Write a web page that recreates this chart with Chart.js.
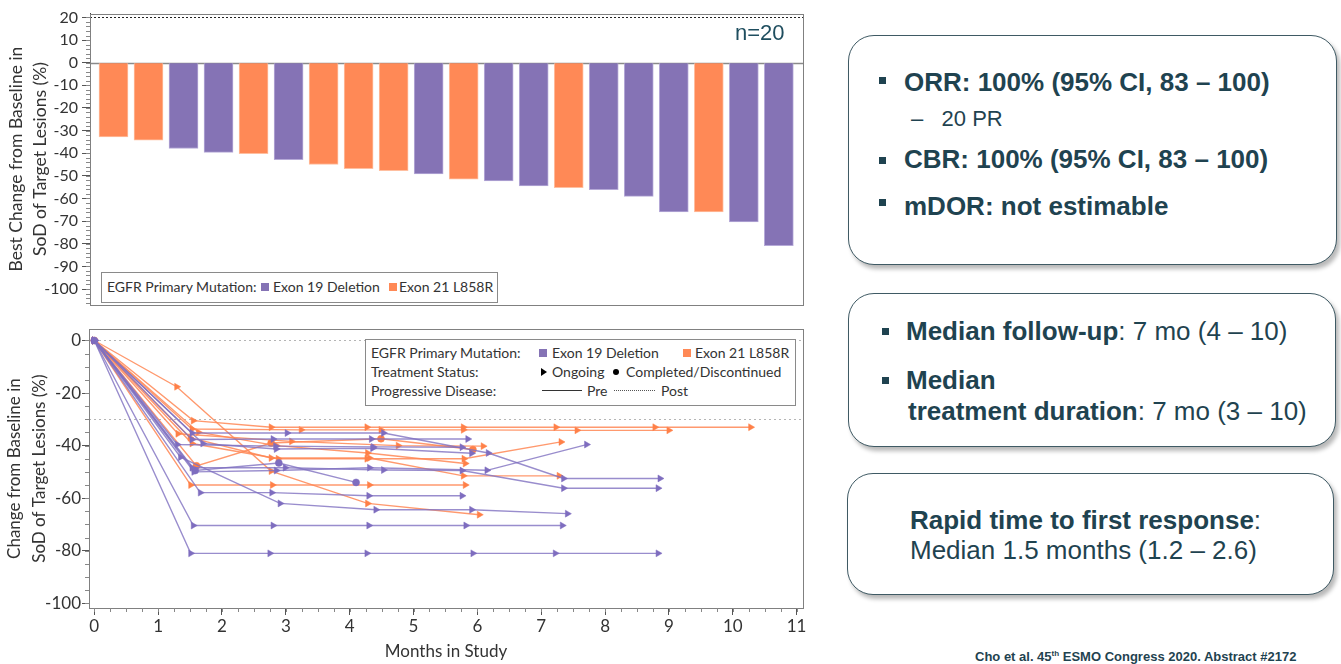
<!DOCTYPE html>
<html>
<head>
<meta charset="utf-8">
<script src="https://cdn.jsdelivr.net/npm/chart.js@4.4.1/dist/chart.umd.min.js"></script>
<style>
  body { margin: 0; background: #fff; }
  #slide { position: relative; width: 1341px; height: 664px; overflow: hidden; background: #fff; font-family: Lato, sans-serif; }
  .cv { position: absolute; left: 0; }
  .lg { position: absolute; border: 1px solid #8a8a8a; background: #fff; }
  .t { position: absolute; white-space: nowrap; font-size: 14px; line-height: 18px; color: #333; }
  .sw { position: absolute; width: 8px; height: 8px; }
  .panel { position: absolute; border: 1.5px solid #3f5a64; border-radius: 26px; box-shadow: 3px 4px 4px rgba(0,0,0,0.28); background: #fff; }
  .p { position: absolute; white-space: nowrap; font-family: "Liberation Sans", Arial, sans-serif; color: #1f4350; font-size: 26px; line-height: 26px; }
  .b { font-weight: bold; }
  .blt { position: absolute; width: 7px; height: 7px; background: #1f4350; }
</style>
</head>
<body>
<div id="slide">
  <canvas id="waterfall" class="cv" style="top:0" width="812" height="318"></canvas>
  <canvas id="spider" class="cv" style="top:318px" width="812" height="346"></canvas>

  <!-- waterfall legend -->
  <div class="lg" style="left:101px;top:272px;width:395px;height:29px;"></div>
  <div class="t" style="left:107px;top:278px;">EGFR Primary Mutation:</div>
  <div class="sw" style="left:261px;top:283px;background:#8573b5;"></div>
  <div class="t" style="left:273px;top:278px;">Exon 19 Deletion</div>
  <div class="sw" style="left:389px;top:283px;background:#ff8956;"></div>
  <div class="t" style="left:399px;top:278px;">Exon 21 L858R</div>
  <div class="t" style="left:735px;top:21px;font-family:'Liberation Sans',Arial,sans-serif;font-size:22px;line-height:24px;color:#1f4e5f;">n=20</div>

  <!-- spider legend -->
  <div class="lg" style="left:365px;top:339px;width:429px;height:65px;"></div>
  <div class="t" style="left:371px;top:344px;">EGFR Primary Mutation:</div>
  <div class="sw" style="left:539px;top:349px;background:#8573b5;"></div>
  <div class="t" style="left:552px;top:344px;">Exon 19 Deletion</div>
  <div class="sw" style="left:683px;top:349px;background:#ff8956;"></div>
  <div class="t" style="left:695px;top:344px;">Exon 21 L858R</div>
  <div class="t" style="left:371px;top:363px;">Treatment Status:</div>
  <div style="position:absolute;left:541px;top:368px;width:0;height:0;border-top:4px solid transparent;border-bottom:4px solid transparent;border-left:6px solid #000;"></div>
  <div class="t" style="left:552px;top:363px;">Ongoing</div>
  <div style="position:absolute;left:613px;top:369px;width:6px;height:6px;border-radius:50%;background:#000;"></div>
  <div class="t" style="left:626px;top:363px;">Completed/Discontinued</div>
  <div class="t" style="left:371px;top:382px;">Progressive Disease:</div>
  <div style="position:absolute;left:542px;top:390px;width:40px;border-top:1px solid #333;"></div>
  <div class="t" style="left:587px;top:382px;">Pre</div>
  <div style="position:absolute;left:614px;top:390px;width:41px;border-top:1px dotted #555;"></div>
  <div class="t" style="left:661px;top:382px;">Post</div>

  <!-- right panels -->
  <div class="panel" style="left:848px;top:35px;width:487px;height:228px;"></div>
  <div class="blt" style="left:879px;top:77px;"></div>
  <div class="p b" style="left:904px;top:69px;">ORR: 100% (95% CI, 83 – 100)</div>
  <div class="p" style="left:911px;top:108px;font-size:22px;line-height:22px;">–&nbsp;&nbsp;&nbsp;20 PR</div>
  <div class="blt" style="left:879px;top:157px;"></div>
  <div class="p b" style="left:904px;top:146px;">CBR: 100% (95% CI, 83 – 100)</div>
  <div class="blt" style="left:879px;top:199px;"></div>
  <div class="p b" style="left:904px;top:193px;">mDOR: not estimable</div>

  <div class="panel" style="left:848px;top:293px;width:486px;height:152px;"></div>
  <div class="blt" style="left:882px;top:328px;"></div>
  <div class="p" style="left:906px;top:318px;"><span class="b">Median follow-up</span>: 7 mo (4 – 10)</div>
  <div class="blt" style="left:882px;top:377px;"></div>
  <div class="p b" style="left:906px;top:367px;">Median</div>
  <div class="p" style="left:908px;top:398px;"><span class="b">treatment duration</span>: 7 mo (3 – 10)</div>

  <div class="panel" style="left:847px;top:473px;width:485px;height:120px;"></div>
  <div class="p b" style="left:910px;top:507px;">Rapid time to first response<span style="font-weight:normal">:</span></div>
  <div class="p" style="left:910px;top:537px;">Median 1.5 months (1.2 – 2.6)</div>

  <div class="p b" style="left:975px;top:650px;font-size:13px;line-height:14px;">Cho et al. 45<sup style="font-size:8px;line-height:0">th</sup> ESMO Congress 2020. Abstract #2172</div>
</div>

<script>
// ---- waterfall: best change per patient, sorted ----
const waterfallChange = [-32.8, -34.2, -37.9, -39.6, -40.2, -42.9, -45.0, -46.8, -47.7, -49.1,
                         -51.5, -52.2, -54.4, -55.2, -56.1, -59.1, -65.9, -65.9, -70.4, -80.9];
const waterfallMutation = ['L858R', 'L858R', 'Del19', 'Del19', 'L858R', 'Del19', 'L858R', 'L858R', 'L858R', 'Del19',
                           'L858R', 'Del19', 'Del19', 'L858R', 'Del19', 'Del19', 'Del19', 'L858R', 'Del19', 'Del19'];
const waterfallTicks = [20, 10, 0, -10, -20, -30, -40, -50, -60, -70, -80, -90, -100];

// ---- spider: change over time per patient ----
const spiderMonths = [
  [0, 1.51, 2.75, 4.27, 5.93, 7.22, 8.83],
  [0, 1.55, 2.80, 4.30, 5.82, 7.33],
  [0, 1.35, 2.91, 4.41, 5.91, 7.41],
  [0, 1.66, 2.78, 4.30, 5.76],
  [0, 1.53, 2.99, 4.53, 5.76, 7.35, 8.83],
  [0, 1.53, 3.02, 4.53, 6.17, 7.35, 8.86],
  [0, 1.56, 2.85, 4.31, 6.15, 7.71],
  [0, 1.58, 2.89, 4.10],
  [0, 1.53, 2.80, 4.34, 5.85],
  [0, 1.30, 2.84, 4.37, 5.76],
  [0, 1.70, 2.85, 4.36, 5.91],
  [0, 1.55, 2.77, 4.27, 5.78, 7.23, 8.78, 10.28],
  [0, 1.53, 3.24, 4.49, 5.78, 7.56, 9.00],
  [0, 1.29, 2.77, 4.28, 6.03],
  [0, 1.51, 2.79, 4.31, 5.81],
  [0, 1.31, 3.09, 4.76, 6.09],
  [0, 1.53, 2.88, 4.27, 5.79, 7.31],
  [0, 1.63, 2.85, 4.28, 5.81],
  [0, 1.60, 2.77, 4.49, 5.93],
  [0, 1.50, 2.77, 4.31, 5.78, 7.28]
];
const spiderChange = [
  [0, -81, -81, -81, -81, -81, -81],
  [0, -70.4, -70.4, -70.4, -70.4, -70.4],
  [0, -44.4, -62, -64.4, -64.4, -65.9],
  [0, -57.9, -57.9, -59.1, -59.1],
  [0, -48.4, -48.4, -49.3, -49.5, -56.2, -56.2],
  [0, -35.2, -35.2, -35.2, -42.8, -52.5, -52.5],
  [0, -50, -49.5, -48.4, -49.4, -39.6],
  [0, -49.5, -46.6, -54],
  [0, -37.7, -37.5, -37.5, -37.5],
  [0, -39.6, -40.2, -40.5, -40.6],
  [0, -39.2, -41.3, -41, -42.9],
  [0, -30.5, -33, -33, -33, -33, -33, -33],
  [0, -33.7, -34, -34, -34, -34.2, -34.2],
  [0, -17.6, -49.7, -62, -66.3],
  [0, -55, -55, -55, -55],
  [0, -35.5, -38.4, -40, -40.2],
  [0, -39.2, -45, -45, -45, -38.6],
  [0, -34.9, -40, -42.8, -46.8],
  [0, -47.7, -39, -37.4, -41.5],
  [0, -37, -44.7, -44.7, -51.5, -51.5]
];
const spiderMutation = ['Del19', 'Del19', 'Del19', 'Del19', 'Del19', 'Del19', 'Del19', 'Del19', 'Del19', 'Del19', 'Del19',
                        'L858R', 'L858R', 'L858R', 'L858R', 'L858R', 'L858R', 'L858R', 'L858R', 'L858R'];
const spiderStatus = ['ongoing', 'ongoing', 'ongoing', 'ongoing', 'ongoing', 'ongoing', 'ongoing', 'completed', 'ongoing', 'ongoing', 'ongoing',
                      'ongoing', 'ongoing', 'ongoing', 'ongoing', 'ongoing', 'ongoing', 'ongoing', 'completed', 'ongoing'];
const spiderXTicks = [0, 1, 2, 3, 4, 5, 6, 7, 8, 9, 10, 11];
const spiderYTicks = [0, -20, -40, -60, -80, -100];
const spiderRefValues = [0, -30];

const barColor = { Del19: '#8573b5', L858R: '#ff8956' };
const barEdge = { Del19: '#b6aad8', L858R: '#ffbfa0' };
const lineColor = { Del19: 'rgba(128,112,192,0.8)', L858R: 'rgba(255,135,85,0.85)' };
const markColor = { Del19: '#7e6dbf', L858R: '#ff8048' };

Chart.defaults.font.family = 'Lato, sans-serif';
Chart.defaults.color = '#333';

// dotted / solid horizontal reference lines, placed through the y scale
const refLines = {
  id: 'refLines',
  beforeDatasetsDraw(chart, args, opts) {
    const { ctx, chartArea } = chart;
    const y = chart.scales.y;
    ctx.save();
    (opts.lines || []).forEach(l => {
      const p = Math.round(y.getPixelForValue(l.value)) + 0.5;
      ctx.strokeStyle = l.color;
      ctx.lineWidth = l.width || 1;
      ctx.setLineDash(l.dash || []);
      ctx.beginPath();
      ctx.moveTo(chartArea.left, p);
      ctx.lineTo(chartArea.right, p);
      ctx.stroke();
    });
    ctx.restore();
  }
};

// box round the plot area
const frame = {
  id: 'frame',
  afterDraw(chart, args, opts) {
    const { ctx, chartArea: a } = chart;
    ctx.save();
    ctx.strokeStyle = opts.color || '#777';
    ctx.lineWidth = 1;
    ctx.strokeRect(Math.round(a.left) + 0.5, Math.round(a.top) + 0.5, Math.round(a.right - a.left), Math.round(a.bottom - a.top));
    ctx.restore();
  }
};

// small minor tick marks between the labelled ones
const minorTicks = {
  id: 'minorTicks',
  afterDraw(chart, args, opts) {
    const ctx = chart.ctx;
    ctx.save();
    ctx.strokeStyle = opts.color || '#777';
    ctx.lineWidth = 1;
    (opts.axes || []).forEach(ax => {
      const scale = chart.scales[ax.id];
      for (let v = ax.from; v <= ax.to + 1e-9; v += ax.step) {
        const p = Math.round(scale.getPixelForValue(v)) + 0.5;
        ctx.beginPath();
        if (scale.isHorizontal()) {
          ctx.moveTo(p, scale.top);
          ctx.lineTo(p, scale.top + ax.len);
        } else {
          ctx.moveTo(scale.right - ax.len, p);
          ctx.lineTo(scale.right, p);
        }
        ctx.stroke();
      }
    });
    ctx.restore();
  }
};

new Chart(document.getElementById('waterfall'), {
  type: 'bar',
  data: {
    datasets: [{
      data: waterfallChange.map((v, i) => ({ x: i, y: v })),
      backgroundColor: waterfallMutation.map(m => barColor[m]),
      borderColor: waterfallMutation.map(m => barEdge[m]),
      borderWidth: 1,
      borderSkipped: 'start',
      barThickness: 29
    }]
  },
  options: {
    responsive: false,
    animation: false,
    layout: { padding: { top: 10, bottom: 6, right: 9, left: 0 } },
    plugins: {
      legend: { display: false },
      tooltip: { enabled: false },
      refLines: { lines: [
        { value: 20, color: '#222', dash: [2, 2] },
        { value: 0, color: '#8a8a8a', width: 1.5 }
      ] },
      frame: { color: '#808080' },
      minorTicks: { color: '#888', axes: [{ id: 'y', from: -106, to: 20, step: 2, len: 4 }] }
    },
    scales: {
      x: {
        type: 'linear', display: false, offset: false, min: -0.671, max: 19.69,
        grid: { offset: false },
        afterBuildTicks: s => { s.ticks = waterfallChange.map((v, i) => ({ value: i })); }
      },
      y: {
        min: -106.8, max: 21.7,
        afterBuildTicks: s => { s.ticks = waterfallTicks.map(v => ({ value: v })); },
        afterFit: s => { s.width = 90; },
        ticks: { font: { size: 16 }, color: '#333', padding: 4, autoSkip: false },
        grid: { drawOnChartArea: false, tickLength: 8, color: '#555' },
        border: { color: '#444' },
        title: {
          display: true, text: ['Best Change from Baseline in', 'SoD of Target Lesions (%)'],
          font: { size: 17.5, lineHeight: 1.33 }, color: '#333', padding: { top: 5, bottom: 0 }
        }
      }
    }
  },
  plugins: [refLines, frame, minorTicks]
});

new Chart(document.getElementById('spider'), {
  type: 'line',
  data: {
    datasets: spiderMonths.map((months, i) => ({
      data: months.map((m, j) => ({ x: m, y: spiderChange[i][j] })),
      borderColor: lineColor[spiderMutation[i]],
      backgroundColor: markColor[spiderMutation[i]],
      pointBorderColor: markColor[spiderMutation[i]],
      pointStyle: spiderStatus[i] === 'ongoing' ? 'triangle' : 'circle',
      pointRotation: 90,
      pointRadius: spiderStatus[i] === 'ongoing' ? 4 : 3.5,
      pointBorderWidth: 0.5,
      borderWidth: 1.4,
      tension: 0,
      fill: false
    }))
  },
  options: {
    responsive: false,
    animation: false,
    layout: { padding: { top: 9, bottom: 0, right: 9, left: 0 } },
    plugins: {
      legend: { display: false },
      tooltip: { enabled: false },
      refLines: { lines: spiderRefValues.map(v => ({ value: v, color: '#b5b5b5', dash: [2, 3] })) },
      frame: { color: '#808080' },
      minorTicks: { color: '#888', axes: [
        { id: 'x', from: 0, to: 11, step: 0.25, len: 4 },
        { id: 'y', from: -100, to: 0, step: 5, len: 4 }
      ] }
    },
    scales: {
      x: {
        type: 'linear', min: -0.083, max: 11.1,
        afterBuildTicks: s => { s.ticks = spiderXTicks.map(v => ({ value: v })); },
        afterFit: s => { s.height = 56; },
        ticks: { font: { size: 17 }, color: '#333', padding: 1, maxRotation: 0, autoSkip: false },
        grid: { drawOnChartArea: false, tickLength: 7, color: '#555' },
        border: { color: '#444' },
        title: { display: true, text: 'Months in Study', font: { size: 17 }, color: '#333', padding: { top: 0, bottom: 2 } }
      },
      y: {
        min: -101.8, max: 4.3,
        afterBuildTicks: s => { s.ticks = spiderYTicks.map(v => ({ value: v })); },
        afterFit: s => { s.width = 89; },
        ticks: { font: { size: 17 }, color: '#333', padding: 1, autoSkip: false },
        grid: { drawOnChartArea: false, tickLength: 7, color: '#555' },
        border: { color: '#444' },
        title: {
          display: true, text: ['Change from Baseline in', 'SoD of Target Lesions (%)'],
          font: { size: 17, lineHeight: 1.47 }, color: '#333', padding: { top: 2.5, bottom: 0 }
        }
      }
    }
  },
  plugins: [refLines, frame, minorTicks]
});
</script>
</body>
</html>
